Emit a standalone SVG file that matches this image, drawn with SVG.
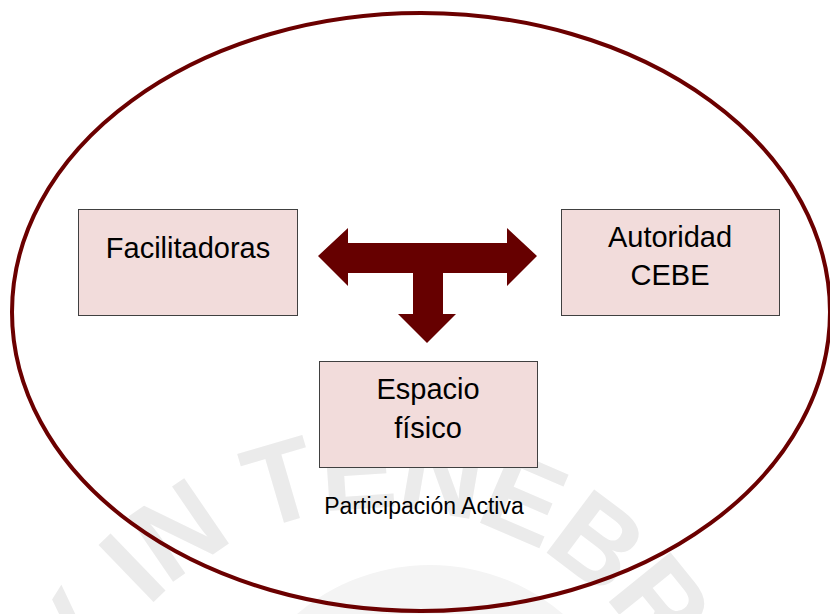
<svg xmlns="http://www.w3.org/2000/svg" xmlns:xlink="http://www.w3.org/1999/xlink" width="830" height="614" viewBox="0 0 830 614">
<style>
.box{fill:#f2dcdb;stroke:#404040;stroke-width:1}
.lbl{font-family:"Liberation Sans",Arial,sans-serif;font-size:29px;fill:#000;text-anchor:middle}
.wm{font-family:"Liberation Sans",Arial,sans-serif;font-size:115px;fill:#ebebeb;font-weight:bold}
</style>
<defs>
<path id="wmArc" d="M103,988 A320,320 0 0 1 60,828 A320,320 0 0 1 700,828 A320,320 0 0 1 657,988"/>
</defs>
<rect width="830" height="614" fill="#fff"/>
<g id="watermark">
<circle cx="430" cy="770" r="205" fill="#f4f4f4"/>
<text class="wm" letter-spacing="-4"><textPath xlink:href="#wmArc" startOffset="630" text-anchor="middle">LUX IN TENEBRIS</textPath></text>
</g>
<g id="frame">
<ellipse cx="421" cy="312" rx="409" ry="299" fill="none" stroke="#6b0000" stroke-width="4"/>
</g>
<g id="connectors">
<path d="M318,256 L348,228 L348,243 L507,243 L507,228 L537,256 L507,286 L507,273 L443,273 L443,314 L456,314 L427,343 L398,314 L413,314 L413,273 L348,273 L348,286 Z" fill="#660000"/>
</g>
<g id="facilitadoras">
<rect class="box" x="78.5" y="209.5" width="219" height="106"/>
<text class="lbl" x="188" y="258">Facilitadoras</text>
</g>
<g id="autoridad">
<rect class="box" x="561.5" y="209.5" width="218" height="106"/>
<text class="lbl" x="670" y="247">Autoridad</text>
<text class="lbl" x="670" y="285">CEBE</text>
</g>
<g id="espacio">
<rect class="box" x="319.5" y="361.5" width="218" height="106"/>
<text class="lbl" x="428" y="399">Espacio</text>
<text class="lbl" x="428" y="438">físico</text>
</g>
<g id="participacion">
<text x="424" y="514" font-family="Liberation Sans, Arial, sans-serif" font-size="23" text-anchor="middle">Participación Activa</text>
</g>
</svg>
